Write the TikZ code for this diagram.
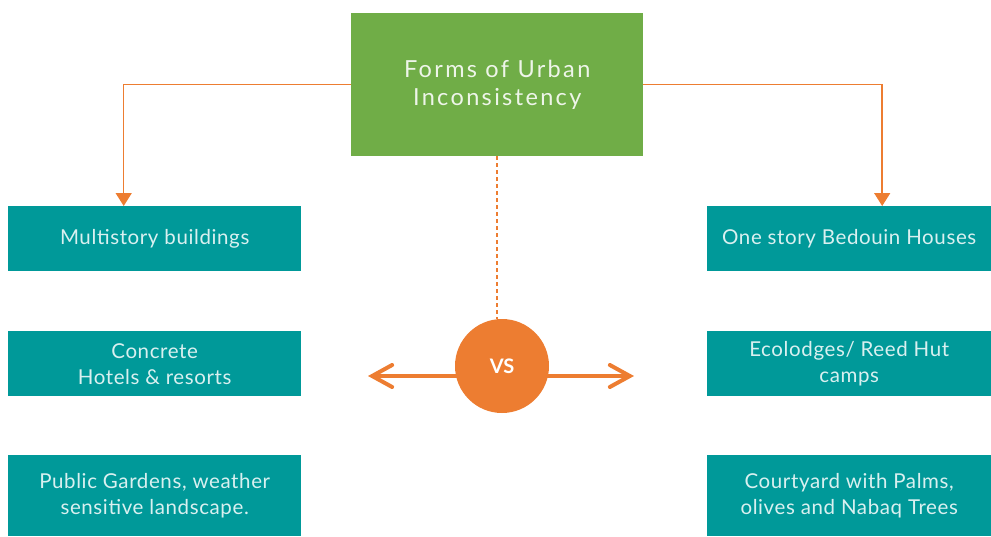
\documentclass[tikz,border=0pt]{standalone}
\usepackage{fontspec}
\setmainfont{Lato}
\usetikzlibrary{arrows.meta}
\definecolor{urbgreen}{HTML}{70AD47}
\definecolor{urbteal}{HTML}{009999}
\definecolor{urborange}{HTML}{ED7D31}

\begin{document}
\begin{tikzpicture}[x=1pt,y=-1pt,
    item/.style={fill=urbteal, text=white!85!urbteal, minimum width=293pt, minimum height=65pt,
      inner sep=0pt, align=center, anchor=north west, execute at begin node={\vspace*{5pt}},
      font=\addfontfeature{LetterSpace=3}\fontsize{20.5}{26}\selectfont},
    link/.style={draw=urborange, line width=1.5pt, -{Triangle[width=16pt,length=13pt]}}]
        \useasboundingbox (0,0) rectangle (991,536);
        \node[fill=urbgreen, text=white!88!urbgreen, minimum width=292pt, minimum height=143pt, anchor=north west,
          align=center, execute at begin node={\vspace*{5pt}},
          font=\addfontfeature{LetterSpace=10}\fontsize{23.5}{28}\selectfont] (title) at (351,13) {Forms of Urban\\Inconsistency};
        % left column
        \node[item] (multi) at (8,206) {Multistory buildings};
        \node[item] (hotels) at (8,331) {Concrete\\Hotels \& resorts};
        \node[item, minimum height=81pt] (gardens) at (8,455) {Public Gardens, weather\\sensitive landscape.};
        % right column
        \node[item, minimum width=284pt] (bedouin) at (707,206) {One story Bedouin Houses};
        \node[item, minimum width=284pt] (lodges) at (707,331) {Ecolodges/ Reed Hut\\camps};
        \node[item, minimum width=284pt, minimum height=81pt] (court) at (707,455) {Courtyard with Palms,\\olives and Nabaq Trees};
        \draw[link] (title.west) -| ([xshift=-31pt]multi.north);
        \draw[link] (title.east) -| ([xshift=33pt]bedouin.north);
        % versus
        \coordinate (lt) at (368,376);
        \coordinate (rt) at (634,376);
        \draw[urborange, line width=4pt, {Straight Barb[length=20pt,width=22pt,line cap=round]}-{Straight Barb[length=20pt,width=22pt,line cap=round]}] (lt) -- (rt);
        \node[circle, fill=urborange, minimum size=94pt, text=white, font=\bfseries\fontsize{20}{22}\selectfont] (vs) at (502,366) {VS};
        \draw[urborange, line width=1.5pt, dash pattern=on 4pt off 3pt] (title.south) -- (title.south |- vs.north);
      \end{tikzpicture}
\end{document}
